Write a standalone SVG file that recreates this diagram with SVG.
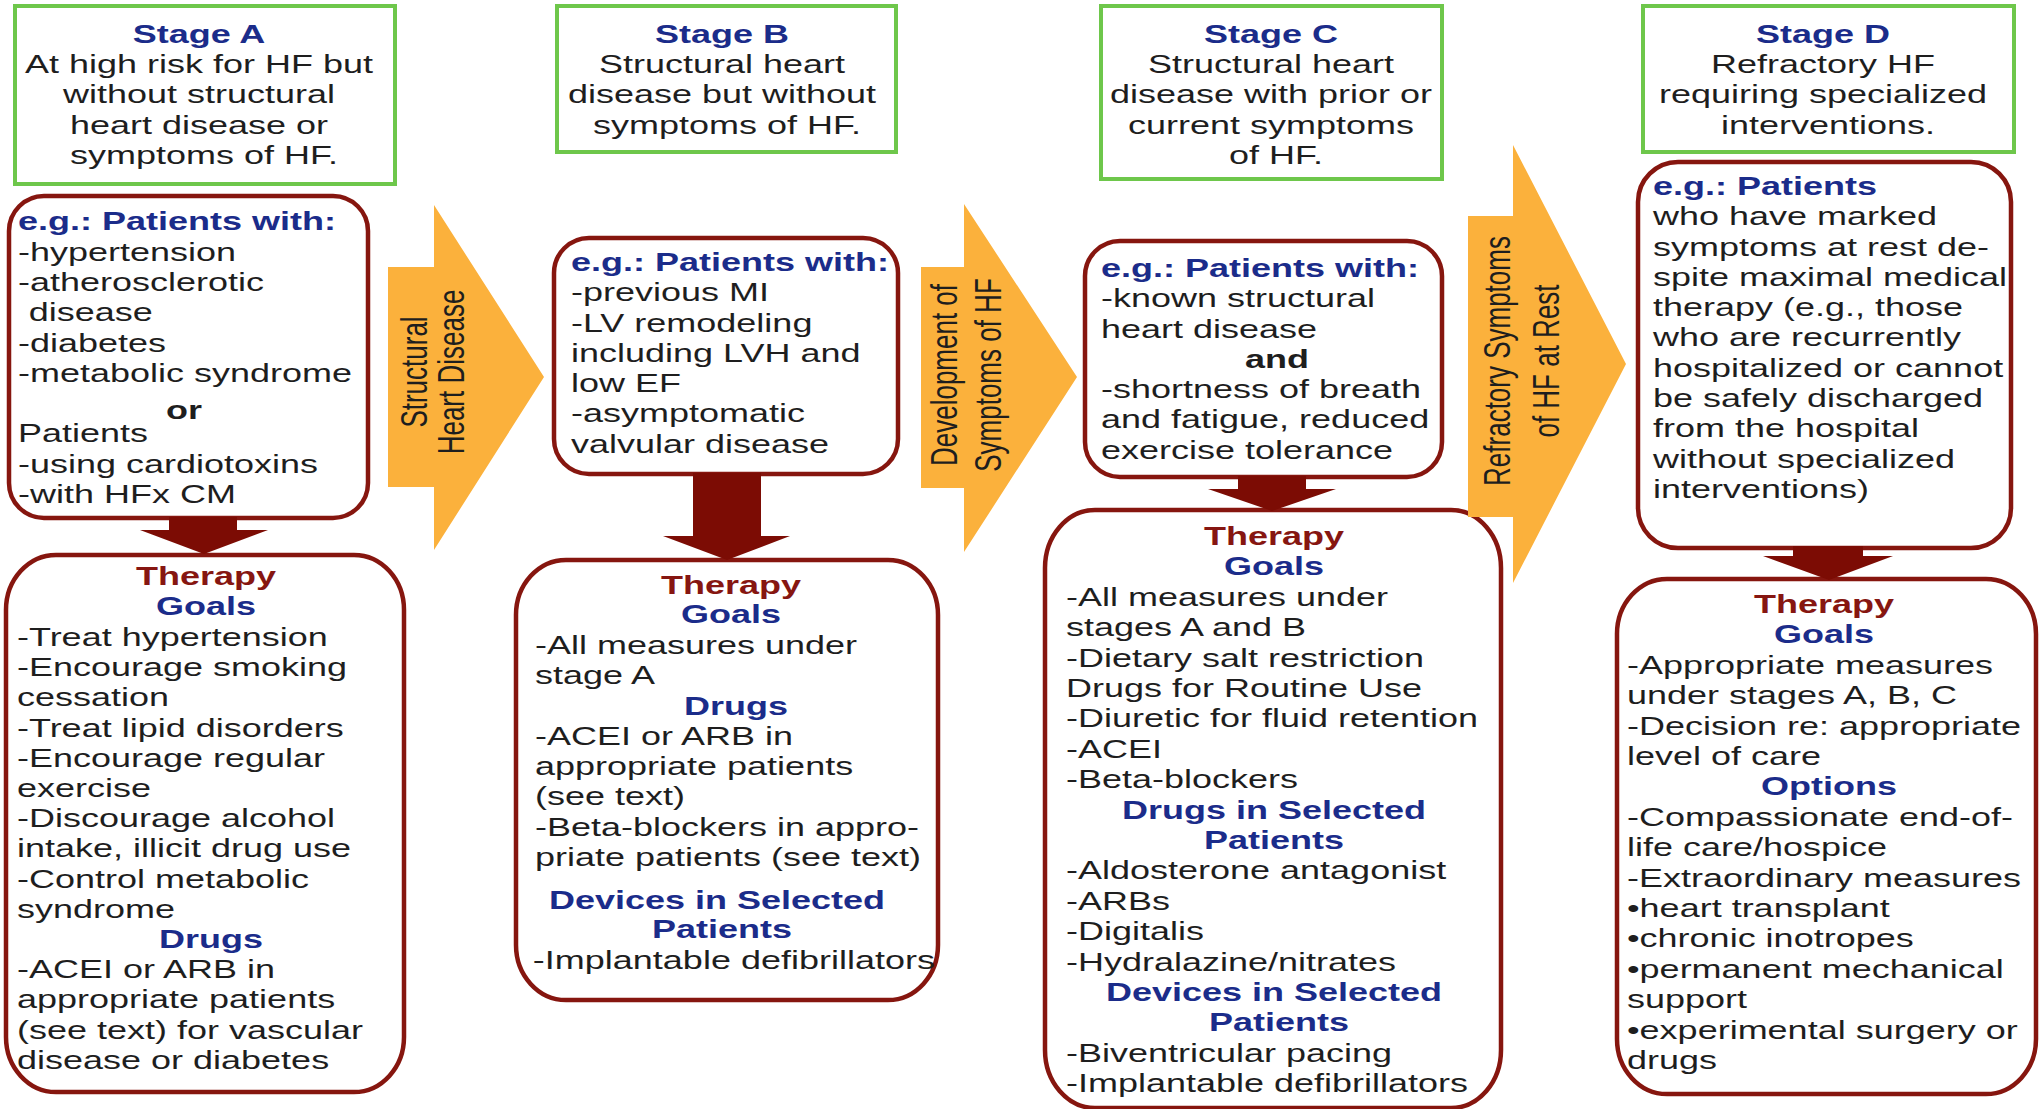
<svg xmlns="http://www.w3.org/2000/svg" width="2039" height="1109" viewBox="0 0 2039 1109">
<style>
.t{font-family:"Liberation Sans",Arial,Helvetica,sans-serif;font-size:25px;fill:#1e1e1e}
.hb{font-weight:bold;fill:#1b2c8a}
.tr{font-weight:bold;fill:#861611}
.bk{font-weight:bold;fill:#1e1e1e}
.stage{fill:#fff;stroke:#6ec74b;stroke-width:4}
.box{fill:#fff;stroke:#86160f;stroke-width:4.5}
.chev{fill:#fbb13c}
.down{fill:#7c0c04}
.ct{font-family:"Liberation Sans",Arial,Helvetica,sans-serif;font-size:26px;fill:#1e1e1e}
</style>
<rect width="2039" height="1109" fill="#fff"/>

<g id="stageA">
<rect class="stage" x="15" y="6" width="380" height="178"/>
<text class="t" text-anchor="middle" transform="translate(204,0) scale(1.44,1)">
<tspan class="hb" x="0" y="43">Stage A</tspan>
<tspan x="0" y="73">At high risk for HF but</tspan>
<tspan x="0" y="103.5">without structural</tspan>
<tspan x="0" y="134">heart disease or</tspan>
<tspan x="0" y="164">symptoms of HF.</tspan>
</text>
</g>

<g id="stageB">
<rect class="stage" x="557" y="6" width="339" height="146"/>
<text class="t" text-anchor="middle" transform="translate(727,0) scale(1.44,1)">
<tspan class="hb" x="0" y="43">Stage B</tspan>
<tspan x="0" y="73">Structural heart</tspan>
<tspan x="0" y="103.5">disease but without</tspan>
<tspan x="0" y="134">symptoms of HF.</tspan>
</text>
</g>

<g id="stageC">
<rect class="stage" x="1101" y="6" width="341" height="173"/>
<text class="t" text-anchor="middle" transform="translate(1276,0) scale(1.44,1)">
<tspan class="hb" x="0" y="43">Stage C</tspan>
<tspan x="0" y="73">Structural heart</tspan>
<tspan x="0" y="103.5">disease with prior or</tspan>
<tspan x="0" y="134">current symptoms</tspan>
<tspan x="0" y="164">of HF.</tspan>
</text>
</g>

<g id="stageD">
<rect class="stage" x="1643" y="6" width="371" height="146"/>
<text class="t" text-anchor="middle" transform="translate(1828,0) scale(1.44,1)">
<tspan class="hb" x="0" y="43">Stage D</tspan>
<tspan x="0" y="73">Refractory HF</tspan>
<tspan x="0" y="103.5">requiring specialized</tspan>
<tspan x="0" y="134">interventions.</tspan>
</text>
</g>

<g id="patientsA">
<rect class="box" x="9" y="196" width="359" height="322" rx="35"/>
<text class="t" transform="translate(18,0) scale(1.44,1)">
<tspan class="hb" x="0" y="230">e.g.: Patients with:</tspan>
<tspan x="0" y="261">-hypertension</tspan>
<tspan x="0" y="291">-atherosclerotic</tspan>
<tspan x="7.5" y="321">disease</tspan>
<tspan x="0" y="352">-diabetes</tspan>
<tspan x="0" y="382">-metabolic syndrome</tspan>
<tspan x="0" y="442">Patients</tspan>
<tspan x="0" y="473">-using cardiotoxins</tspan>
<tspan x="0" y="503">-with HFx CM</tspan>
</text>
<text class="t bk" text-anchor="middle" transform="translate(184,0) scale(1.44,1)" x="0" y="419">or</text>
</g>

<g id="patientsB">
<rect class="box" x="554" y="238" width="344" height="236" rx="35"/>
<text class="t" transform="translate(571,0) scale(1.44,1)">
<tspan class="hb" x="0" y="271">e.g.: Patients with:</tspan>
<tspan x="0" y="301.3">-previous MI</tspan>
<tspan x="0" y="331.6">-LV remodeling</tspan>
<tspan x="0" y="361.9">including LVH and</tspan>
<tspan x="0" y="392.2">low EF</tspan>
<tspan x="0" y="422.5">-asymptomatic</tspan>
<tspan x="0" y="452.8">valvular disease</tspan>
</text>
</g>

<g id="patientsC">
<rect class="box" x="1085" y="241" width="357" height="236" rx="35"/>
<text class="t" transform="translate(1101,0) scale(1.44,1)">
<tspan class="hb" x="0" y="277">e.g.: Patients with:</tspan>
<tspan x="0" y="307.3">-known structural</tspan>
<tspan x="0" y="337.6">heart disease</tspan>
<tspan x="0" y="398.2">-shortness of breath</tspan>
<tspan x="0" y="428.5">and fatigue, reduced</tspan>
<tspan x="0" y="458.8">exercise tolerance</tspan>
</text>
<text class="t bk" text-anchor="middle" transform="translate(1277,0) scale(1.44,1)" x="0" y="367.9">and</text>
</g>

<g id="patientsD">
<rect class="box" x="1638" y="162" width="373" height="386" rx="40"/>
<text class="t" transform="translate(1653,0) scale(1.44,1)">
<tspan class="hb" x="0" y="195">e.g.: Patients</tspan>
<tspan x="0" y="225.3">who have marked</tspan>
<tspan x="0" y="255.6">symptoms at rest de-</tspan>
<tspan x="0" y="285.9">spite maximal medical</tspan>
<tspan x="0" y="316.2">therapy (e.g., those</tspan>
<tspan x="0" y="346.5">who are recurrently</tspan>
<tspan x="0" y="376.8">hospitalized or cannot</tspan>
<tspan x="0" y="407.1">be safely discharged</tspan>
<tspan x="0" y="437.4">from the hospital</tspan>
<tspan x="0" y="467.7">without specialized</tspan>
<tspan x="0" y="498">interventions)</tspan>
</text>
</g>

<g id="therapyA">
<rect class="box" x="6" y="555" width="398" height="537" rx="50" ry="55"/>
<text class="t" text-anchor="middle" transform="translate(211,0) scale(1.44,1)">
<tspan class="tr" x="0" y="585">Therapy</tspan>
<tspan class="hb" x="0" y="615">Goals</tspan>
<tspan class="hb" x="0" y="948">Drugs</tspan>
</text>
<text class="t" transform="translate(17,0) scale(1.44,1)">
<tspan x="0" y="646">-Treat hypertension</tspan>
<tspan x="0" y="676.2">-Encourage smoking</tspan>
<tspan x="0" y="706.4">cessation</tspan>
<tspan x="0" y="736.6">-Treat lipid disorders</tspan>
<tspan x="0" y="766.8">-Encourage regular</tspan>
<tspan x="0" y="797">exercise</tspan>
<tspan x="0" y="827.2">-Discourage alcohol</tspan>
<tspan x="0" y="857.4">intake, illicit drug use</tspan>
<tspan x="0" y="887.6">-Control metabolic</tspan>
<tspan x="0" y="917.8">syndrome</tspan>
<tspan x="0" y="978.2">-ACEI or ARB in</tspan>
<tspan x="0" y="1008.4">appropriate patients</tspan>
<tspan x="0" y="1038.6">(see text) for vascular</tspan>
<tspan x="0" y="1068.8">disease or diabetes</tspan>
</text>
</g>

<g id="therapyB">
<rect class="box" x="516" y="560" width="422" height="440" rx="50" ry="55"/>
<text class="t" text-anchor="middle" transform="translate(736,0) scale(1.44,1)">
<tspan class="tr" x="0" y="594">Therapy</tspan>
<tspan class="hb" x="0" y="623">Goals</tspan>
<tspan class="hb" x="0" y="715">Drugs</tspan>
</text>
<text class="t" text-anchor="middle" transform="translate(722,0) scale(1.44,1)">
<tspan class="hb" x="0" y="909">Devices in Selected</tspan>
<tspan class="hb" x="0" y="938">Patients</tspan>
</text>
<text class="t" transform="translate(535,0) scale(1.44,1)">
<tspan x="0" y="654">-All measures under</tspan>
<tspan x="0" y="684">stage A</tspan>
<tspan x="0" y="745">-ACEI or ARB in</tspan>
<tspan x="0" y="775">appropriate patients</tspan>
<tspan x="0" y="805">(see text)</tspan>
<tspan x="0" y="836">-Beta-blockers in appro-</tspan>
<tspan x="0" y="866">priate patients (see text)</tspan>
<tspan x="-1.5" y="969">-Implantable defibrillators</tspan>
</text>
</g>

<g id="therapyC">
<rect class="box" x="1045" y="510" width="456" height="598" rx="50" ry="58"/>
<text class="t" text-anchor="middle" transform="translate(1279,0) scale(1.44,1)">
<tspan class="tr" x="0" y="545">Therapy</tspan>
<tspan class="hb" x="0" y="575.4">Goals</tspan>
<tspan class="hb" x="0" y="818.6">Drugs in Selected</tspan>
<tspan class="hb" x="0" y="849">Patients</tspan>
<tspan class="hb" x="0" y="1001">Devices in Selected</tspan>
<tspan class="hb" x="0" y="1031.4">Patients</tspan>
</text>
<text class="t" transform="translate(1066,0) scale(1.44,1)">
<tspan x="0" y="605.8">-All measures under</tspan>
<tspan x="0" y="636.2">stages A and B</tspan>
<tspan x="0" y="666.6">-Dietary salt restriction</tspan>
<tspan x="0" y="697">Drugs for Routine Use</tspan>
<tspan x="0" y="727.4">-Diuretic for fluid retention</tspan>
<tspan x="0" y="757.8">-ACEI</tspan>
<tspan x="0" y="788.2">-Beta-blockers</tspan>
<tspan x="0" y="879.4">-Aldosterone antagonist</tspan>
<tspan x="0" y="909.8">-ARBs</tspan>
<tspan x="0" y="940.2">-Digitalis</tspan>
<tspan x="0" y="970.6">-Hydralazine/nitrates</tspan>
<tspan x="0" y="1061.8">-Biventricular pacing</tspan>
<tspan x="0" y="1092.2">-Implantable defibrillators</tspan>
</text>
</g>

<g id="therapyD">
<rect class="box" x="1617" y="579" width="419" height="515" rx="50" ry="55"/>
<text class="t" text-anchor="middle" transform="translate(1829,0) scale(1.44,1)">
<tspan class="tr" x="0" y="613">Therapy</tspan>
<tspan class="hb" x="0" y="643.4">Goals</tspan>
<tspan class="hb" x="0" y="795.4">Options</tspan>
</text>
<text class="t" transform="translate(1627,0) scale(1.44,1)">
<tspan x="0" y="673.8">-Appropriate measures</tspan>
<tspan x="0" y="704.2">under stages A, B, C</tspan>
<tspan x="0" y="734.6">-Decision re: appropriate</tspan>
<tspan x="0" y="765">level of care</tspan>
<tspan x="0" y="825.8">-Compassionate end-of-</tspan>
<tspan x="0" y="856.2">life care/hospice</tspan>
<tspan x="0" y="886.6">-Extraordinary measures</tspan>
<tspan x="0" y="917">•heart transplant</tspan>
<tspan x="0" y="947.4">•chronic inotropes</tspan>
<tspan x="0" y="977.8">•permanent mechanical</tspan>
<tspan x="0" y="1008.2">support</tspan>
<tspan x="0" y="1038.6">•experimental surgery or</tspan>
<tspan x="0" y="1069">drugs</tspan>
</text>
</g>

<g id="connectors">
<g id="chevron1">
<polygon class="chev" points="388,267 434,267 434,205 544,377 434,550 434,487 388,487"/>
<text class="ct" text-anchor="middle" transform="translate(427,372) scale(1.44,1) rotate(-90)" x="0" y="0">Structural</text>
<text class="ct" text-anchor="middle" transform="translate(464,372) scale(1.44,1) rotate(-90)" x="0" y="0">Heart Disease</text>
</g>
<g id="chevron2">
<polygon class="chev" points="921,267 964,267 964,204 1077,377 964,552 964,488 921,488"/>
<text class="ct" text-anchor="middle" transform="translate(957,375) scale(1.44,1) rotate(-90)" x="0" y="0">Development of</text>
<text class="ct" text-anchor="middle" transform="translate(1001,375) scale(1.44,1) rotate(-90)" x="0" y="0">Symptoms of HF</text>
</g>
<g id="chevron3">
<polygon class="chev" points="1468,216 1513,216 1513,145 1626,364 1513,583 1513,517 1468,517"/>
<text class="ct" text-anchor="middle" transform="translate(1510,361) scale(1.44,1) rotate(-90)" x="0" y="0">Refractory Symptoms</text>
<text class="ct" text-anchor="middle" transform="translate(1559,361) scale(1.44,1) rotate(-90)" x="0" y="0">of HF at Rest</text>
</g>
<polygon class="down" points="169,517 237,517 237,530 268,530 204,554 140,530 169,530"/>
<polygon class="down" points="693,473 761,473 761,536 790,536 727,560 663,536 693,536"/>
<polygon class="down" points="1238,476 1306,476 1306,489 1336,489 1272,511 1208,489 1238,489"/>
<polygon class="down" points="1793,546 1863,546 1863,556 1893,556 1829,580 1763,556 1793,556"/>
</g>
</svg>
